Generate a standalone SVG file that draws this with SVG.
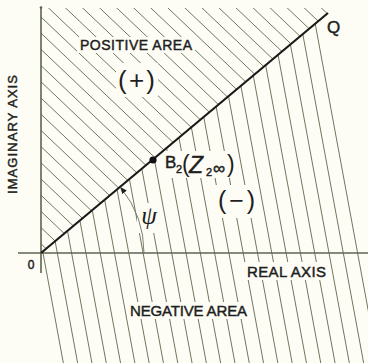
<svg xmlns="http://www.w3.org/2000/svg" width="368" height="363" viewBox="0 0 368 363">
<style>
.hatch line{stroke:#6f7660;stroke-width:1}
.axis{stroke:#5d6450;stroke-width:1.6;fill:none}
.lbl{font-family:"Liberation Sans",Arial,sans-serif;fill:#1e1e1e}
.caps{stroke:#1e1e1e;stroke-width:0.45}
.bg{fill:#fdfdf5}
</style>
<defs>
<clipPath id="up"><polygon points="41,8 334,8 41,253"/></clipPath>
<clipPath id="lo"><polygon points="41,253 334,8 368,8 368,363 41,363"/></clipPath>
<marker id="arr" viewBox="0 0 10 10" refX="9" refY="5" markerWidth="7" markerHeight="7" orient="auto" markerUnits="userSpaceOnUse">
<path d="M0,1 L10,5 L0,9 Z" fill="#1e1e1e"/>
</marker>
</defs>
<rect width="368" height="363" class="bg"/>
<g id="hatch-positive" class="hatch" clip-path="url(#up)">
<line x1="41" y1="-258.4" x2="370" y2="54.15"/>
<line x1="41" y1="-242.2" x2="370" y2="70.35"/>
<line x1="41" y1="-226" x2="370" y2="86.55"/>
<line x1="41" y1="-209.8" x2="370" y2="102.75"/>
<line x1="41" y1="-193.6" x2="370" y2="118.95"/>
<line x1="41" y1="-177.4" x2="370" y2="135.15"/>
<line x1="41" y1="-161.2" x2="370" y2="151.35"/>
<line x1="41" y1="-145" x2="370" y2="167.55"/>
<line x1="41" y1="-128.8" x2="370" y2="183.75"/>
<line x1="41" y1="-112.6" x2="370" y2="199.95"/>
<line x1="41" y1="-96.4" x2="370" y2="216.15"/>
<line x1="41" y1="-80.2" x2="370" y2="232.35"/>
<line x1="41" y1="-64" x2="370" y2="248.55"/>
<line x1="41" y1="-47.8" x2="370" y2="264.75"/>
<line x1="41" y1="-31.6" x2="370" y2="280.95"/>
<line x1="41" y1="-15.4" x2="370" y2="297.15"/>
<line x1="41" y1="0.8" x2="370" y2="313.35"/>
<line x1="41" y1="17" x2="370" y2="329.55"/>
<line x1="41" y1="33.2" x2="370" y2="345.75"/>
<line x1="41" y1="49.4" x2="370" y2="361.95"/>
<line x1="41" y1="65.6" x2="370" y2="378.15"/>
<line x1="41" y1="81.8" x2="370" y2="394.35"/>
<line x1="41" y1="98" x2="370" y2="410.55"/>
<line x1="41" y1="114.2" x2="370" y2="426.75"/>
<line x1="41" y1="130.4" x2="370" y2="442.95"/>
<line x1="41" y1="146.6" x2="370" y2="459.15"/>
<line x1="41" y1="162.8" x2="370" y2="475.35"/>
<line x1="41" y1="179" x2="370" y2="491.55"/>
<line x1="41" y1="195.2" x2="370" y2="507.75"/>
<line x1="41" y1="211.4" x2="370" y2="523.95"/>
<line x1="41" y1="227.6" x2="370" y2="540.15"/>
<line x1="41" y1="243.8" x2="370" y2="556.35"/>
</g>
<g id="hatch-negative" class="hatch" clip-path="url(#lo)">
<line x1="-3.8" y1="0" x2="63.35" y2="363"/>
<line x1="10.5" y1="0" x2="77.65" y2="363"/>
<line x1="24.8" y1="0" x2="91.95" y2="363"/>
<line x1="39.1" y1="0" x2="106.25" y2="363"/>
<line x1="53.4" y1="0" x2="120.55" y2="363"/>
<line x1="67.7" y1="0" x2="134.85" y2="363"/>
<line x1="82" y1="0" x2="149.15" y2="363"/>
<line x1="96.3" y1="0" x2="163.45" y2="363"/>
<line x1="110.6" y1="0" x2="177.75" y2="363"/>
<line x1="124.9" y1="0" x2="192.05" y2="363"/>
<line x1="139.2" y1="0" x2="206.35" y2="363"/>
<line x1="153.5" y1="0" x2="220.65" y2="363"/>
<line x1="167.8" y1="0" x2="234.95" y2="363"/>
<line x1="182.1" y1="0" x2="249.25" y2="363"/>
<line x1="196.4" y1="0" x2="263.55" y2="363"/>
<line x1="210.7" y1="0" x2="277.85" y2="363"/>
<line x1="225" y1="0" x2="292.15" y2="363"/>
<line x1="239.3" y1="0" x2="306.45" y2="363"/>
<line x1="253.6" y1="0" x2="320.75" y2="363"/>
<line x1="267.9" y1="0" x2="335.05" y2="363"/>
<line x1="282.2" y1="0" x2="349.35" y2="363"/>
<line x1="296.5" y1="0" x2="363.65" y2="363"/>
<line x1="310.8" y1="0" x2="377.95" y2="363"/>
</g>
<g id="label-gaps" class="bg">
<rect x="77" y="37" width="118" height="16"/>
<rect x="116" y="63" width="42" height="34"/>
<rect x="162" y="151" width="73" height="27"/>
<rect x="215" y="185" width="43" height="33"/>
<rect x="137" y="203" width="24" height="30"/>
<rect x="127" y="302" width="123" height="17"/>
<rect x="244" y="262" width="85" height="18"/>
</g>
<g id="axes">
<line class="axis" x1="41" y1="7" x2="41" y2="273"/>
<circle cx="41" cy="7.5" r="1.3" fill="#5d6450"/>
<line class="axis" x1="18" y1="253" x2="368" y2="253"/>
</g>
<g id="connectors">
<line id="OQ" x1="41" y1="253" x2="328" y2="13" stroke="#1a1a1a" stroke-width="2.2"/>
<path id="psi-arc" d="M144,253 A103,103 0 0 0 120.6,187.5" fill="none" stroke="#7a8070" stroke-width="1" marker-end="url(#arr)"/>
</g>
<g id="node-B2">
<circle cx="153" cy="160" r="3.6" fill="#111"/>
<text class="lbl caps" x="165" y="168" font-size="17">B</text>
<text class="lbl caps" x="176" y="173" font-size="11">2</text>
<text class="lbl" x="182" y="172" font-size="23">(</text>
<text class="lbl caps" x="189" y="173" font-size="23" font-style="italic">Z</text>
<text class="lbl caps" x="206" y="176" font-size="11">2</text>
<text class="lbl caps" x="213" y="174" font-size="17">∞</text>
<text class="lbl" x="227" y="172" font-size="23">)</text>
</g>
<g id="labels">
<text class="lbl caps" x="80" y="50" font-size="14" textLength="112" lengthAdjust="spacing">POSITIVE AREA</text>
<text class="lbl" x="118" y="89" font-size="26" textLength="37" lengthAdjust="spacing">(+)</text>
<text class="lbl" x="218" y="209" font-size="25" textLength="37" lengthAdjust="spacing">(−)</text>
<text x="149" y="224" font-size="25" font-family="'Liberation Serif',serif" font-style="italic" fill="#1e1e1e" text-anchor="middle">ψ</text>
<text class="lbl caps" x="327" y="33" font-size="17">Q</text>
<text class="lbl caps" x="31" y="269" font-size="12" text-anchor="middle">0</text>
<text class="lbl caps" x="247" y="277" font-size="15" textLength="79" lengthAdjust="spacing">REAL AXIS</text>
<text class="lbl caps" x="130" y="316" font-size="15" textLength="117" lengthAdjust="spacing">NEGATIVE AREA</text>
<text class="lbl caps" transform="translate(17,194) rotate(-90)" x="0" y="0" font-size="13" textLength="119" lengthAdjust="spacing">IMAGINARY AXIS</text>
</g>
</svg>
